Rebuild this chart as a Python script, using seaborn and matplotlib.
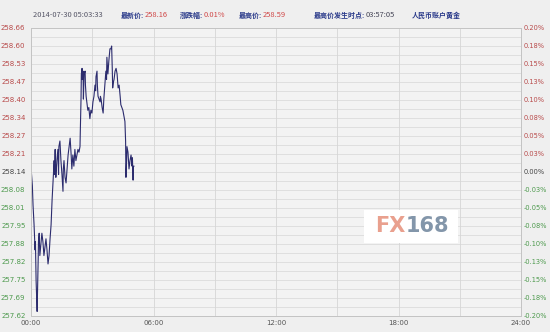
import matplotlib
matplotlib.use("Agg")
import matplotlib.pyplot as plt
import seaborn as sns
import pandas as pd
import numpy as np

# ---------------- data ----------------
minutes = [1, 4, 6, 9, 12, 13, 15, 18, 19, 21,
           22, 24, 26, 29, 32, 35, 38, 41, 44, 47,
           50, 53, 56, 59, 62, 65, 68, 69, 71, 72,
           73, 76, 79, 81, 82, 85, 88, 91, 94, 95,
           97, 100, 103, 106, 109, 112, 115, 118, 120, 123,
           126, 129, 132, 135, 138, 141, 144, 145, 147, 148,
           150, 151, 153, 154, 156, 159, 160, 162, 165, 167,
           170, 173, 176, 179, 182, 185, 188, 190, 191, 194,
           195, 197, 200, 203, 204, 206, 209, 212, 214, 217,
           220, 222, 223, 226, 229, 232, 235, 237, 239, 240,
           242, 244, 247, 250, 253, 256, 259, 262, 264, 267,
           270, 273, 276, 278, 279, 281, 282, 285, 288, 291,
           294, 297, 298, 300, 301, 303]
prices = [258.14, 258.09, 258.02, 257.95, 257.86, 257.89, 257.75, 257.64, 257.70, 257.82,
          257.89, 257.92, 257.84, 257.88, 257.92, 257.89, 257.84, 257.87, 257.90, 257.86,
          257.81, 257.84, 257.90, 257.95, 258.04, 258.11, 258.18, 258.13, 258.22, 258.16,
          258.12, 258.18, 258.22, 258.13, 258.23, 258.25, 258.18, 258.13, 258.07, 258.15,
          258.18, 258.12, 258.10, 258.15, 258.20, 258.23, 258.26, 258.20, 258.15, 258.20,
          258.16, 258.22, 258.18, 258.20, 258.22, 258.21, 258.23, 258.29, 258.40, 258.49,
          258.51, 258.47, 258.50, 258.40, 258.49, 258.50, 258.45, 258.41, 258.38, 258.36,
          258.37, 258.33, 258.36, 258.35, 258.39, 258.41, 258.45, 258.43, 258.48, 258.50,
          258.45, 258.41, 258.40, 258.39, 258.41, 258.40, 258.37, 258.35, 258.40, 258.45,
          258.50, 258.47, 258.55, 258.49, 258.54, 258.58, 258.58, 258.59, 258.50, 258.44,
          258.46, 258.47, 258.50, 258.51, 258.49, 258.44, 258.45, 258.41, 258.38, 258.37,
          258.36, 258.34, 258.32, 258.25, 258.12, 258.18, 258.23, 258.21, 258.15, 258.18,
          258.20, 258.16, 258.19, 258.11, 258.16, 258.16]

prev_close = 258.14
y_ticks = [258.66, 258.60, 258.53, 258.47, 258.40, 258.34, 258.27, 258.21, 258.14,
           258.08, 258.01, 257.95, 257.88, 257.82, 257.75, 257.69, 257.62]
pct_labels = ["0.20%", "0.18%", "0.15%", "0.13%", "0.10%", "0.08%", "0.05%", "0.03%", "0.00%",
              "-0.03%", "-0.05%", "-0.08%", "-0.10%", "-0.13%", "-0.15%", "-0.18%", "-0.20%"]
x_tick_min = [0, 360, 720, 1080, 1440]
x_tick_labels = ["00:00", "06:00", "12:00", "18:00", "24:00"]

header_date = "2014-07-30 05:03:33"
header_items = [("最新价:", "258.16"), ("涨跌幅:", "0.01%"), ("最高价:", "258.59"),
                ("最高价发生时点:", "03:57:05")]
header_name = "人民币账户黄金"

# ---------------- style ----------------
sns.set_theme(style="white")
plt.rcParams['font.family'] = ['DejaVu Sans']

fig = plt.figure(figsize=(5.5, 3.32), dpi=100, facecolor="#efefef")
W, H = 550, 332
y_top, y_bot = 27.5, 316
ax = fig.add_axes([31 / W, (H - y_bot) / H, (521 - 31) / W, (y_bot - y_top) / H])
ax.set_facecolor("#f3f3f3")

df = pd.DataFrame({"minute": minutes, "price": prices})
sns.lineplot(data=df, x="minute", y="price", ax=ax, color="#2c2c6e", linewidth=0.8)

span = prev_close * 0.002
ymin, ymax = prev_close - span, prev_close + span
ax.set_ylim(ymin, ymax)
ax.set_xlim(0, 1440)

# grid lines
minor_y = np.linspace(ymin, ymax, 33)
for yv in minor_y:
    ax.axhline(yv, color="#dcdcdc", lw=0.6, zorder=0)
for xv in range(0, 1441, 180):
    ax.axvline(xv, color="#d6d6d6", lw=0.6, zorder=0)

major_y = np.linspace(ymax, ymin, 17)
ax.set_yticks(major_y)
ax.set_yticklabels([f"{v:.2f}" for v in y_ticks])
ax.set_xticks(x_tick_min)
ax.set_xticklabels(x_tick_labels)
ax.set_xlabel("")
ax.set_ylabel("")

def lab_color(i):
    if i < 8:
        return "#b84a4a"
    if i == 8:
        return "#444444"
    return "#4e9a4e"

ax.tick_params(axis="both", length=0, labelsize=5.0, pad=3)
ax.tick_params(axis="y", pad=4)
for i, t in enumerate(ax.get_yticklabels()):
    t.set_color(lab_color(i))
for t in ax.get_xticklabels():
    t.set_color("#555555")

ax2 = ax.twinx()
ax2.set_ylim(ymin, ymax)
ax2.set_yticks(major_y)
ax2.set_yticklabels(pct_labels)
ax2.tick_params(axis="y", length=0, labelsize=4.8, pad=2)
for i, t in enumerate(ax2.get_yticklabels()):
    t.set_color(lab_color(i))
ax2.grid(False)

for a in (ax, ax2):
    for s in a.spines.values():
        s.set_color("#c4c4c4")
        s.set_linewidth(0.7)

# header
cjk = ['Noto Sans CJK SC', 'DejaVu Sans']
fy = 1 - 15 / H
fig.text(33 / W, fy, header_date, fontsize=5.4, color="#555566", va="center", family=cjk)
value_x = [145, 204, 263, 366]
for (lab, val), vx in zip(header_items, value_x):
    fig.text((vx - 1) / W, fy, lab, fontsize=5.0, color="#2a3a8a", va="center", ha="right",
             family=cjk, fontweight="bold")
    vcol = "#444455" if lab.startswith("最高价发") else "#d04848"
    fig.text(vx / W, fy, val, fontsize=5.4, color=vcol, va="center", family=cjk)
fig.text(412 / W, fy, header_name, fontsize=5.0, color="#2a3a8a", va="center", family=cjk,
         fontweight="bold")

# watermark
wm = fig.add_axes([364 / W, (H - 243) / H, 94 / W, 33 / H])
wm.set_facecolor("white")
wm.set_xticks([]); wm.set_yticks([])
for s in wm.spines.values():
    s.set_visible(False)
wm.text(0.44, 0.5, "FX", color="#e9a08e", fontsize=15, fontweight="bold", va="center",
        ha="right", transform=wm.transAxes)
wm.text(0.44, 0.5, "168", color="#8396aa", fontsize=15, fontweight="bold", va="center",
        ha="left", transform=wm.transAxes)

fig.savefig("out.png", dpi=100, facecolor=fig.get_facecolor())
